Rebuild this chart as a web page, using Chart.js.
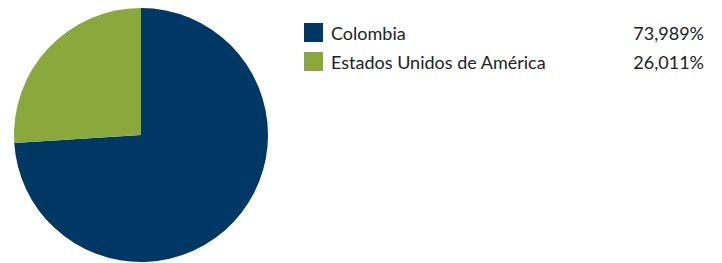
<!DOCTYPE html>
<html>
<head>
<meta charset="utf-8">
<script src="https://cdn.jsdelivr.net/npm/chart.js@4"></script>
<style>
  html, body { margin: 0; padding: 0; background: #fff; }
  body { width: 722px; height: 263px; position: relative; overflow: hidden; font-family: Lato, sans-serif; }
  #wrap { position: absolute; left: 0; top: 0; width: 282px; height: 263px; }
  #legend { position: absolute; left: 304px; top: 18px; width: 400px; }
  .row { display: flex; align-items: center; height: 29px; font-size: 18px; color: #222; }
  .box { width: 19px; height: 19px; margin-right: 8px; flex: none; }
  .lbl { flex: 1; }
  .val { text-align: right; }
</style>
</head>
<body>
<div id="wrap"><canvas id="pie"></canvas></div>
<div id="legend"></div>
<script>
const paises = ['Colombia', 'Estados Unidos de América'];
const porcentajes = [73.989, 26.011];
const colores = ['#003865', '#8AA83B'];

const fmt = v => v.toFixed(3).replace('.', ',') + '%';

new Chart('pie', {
    type: 'pie',
    data: {
        labels: paises,
        datasets: [{
            data: porcentajes,
            backgroundColor: colores,
            borderWidth: 0
        }]
    },
    options: {
        responsive: true,
        maintainAspectRatio: false,
        animation: false,
        layout: { padding: { left: 14, right: 14, top: 8, bottom: 1 } },
        plugins: { legend: { display: false }, tooltip: { enabled: false } }
    }
});

document.getElementById('legend').innerHTML = paises.map((p, i) =>
    `<div class="row"><span class="box" style="background:${colores[i]}"></span><span class="lbl">${p}</span><span class="val">${fmt(porcentajes[i])}</span></div>`
).join('');
</script>
</body>
</html>
